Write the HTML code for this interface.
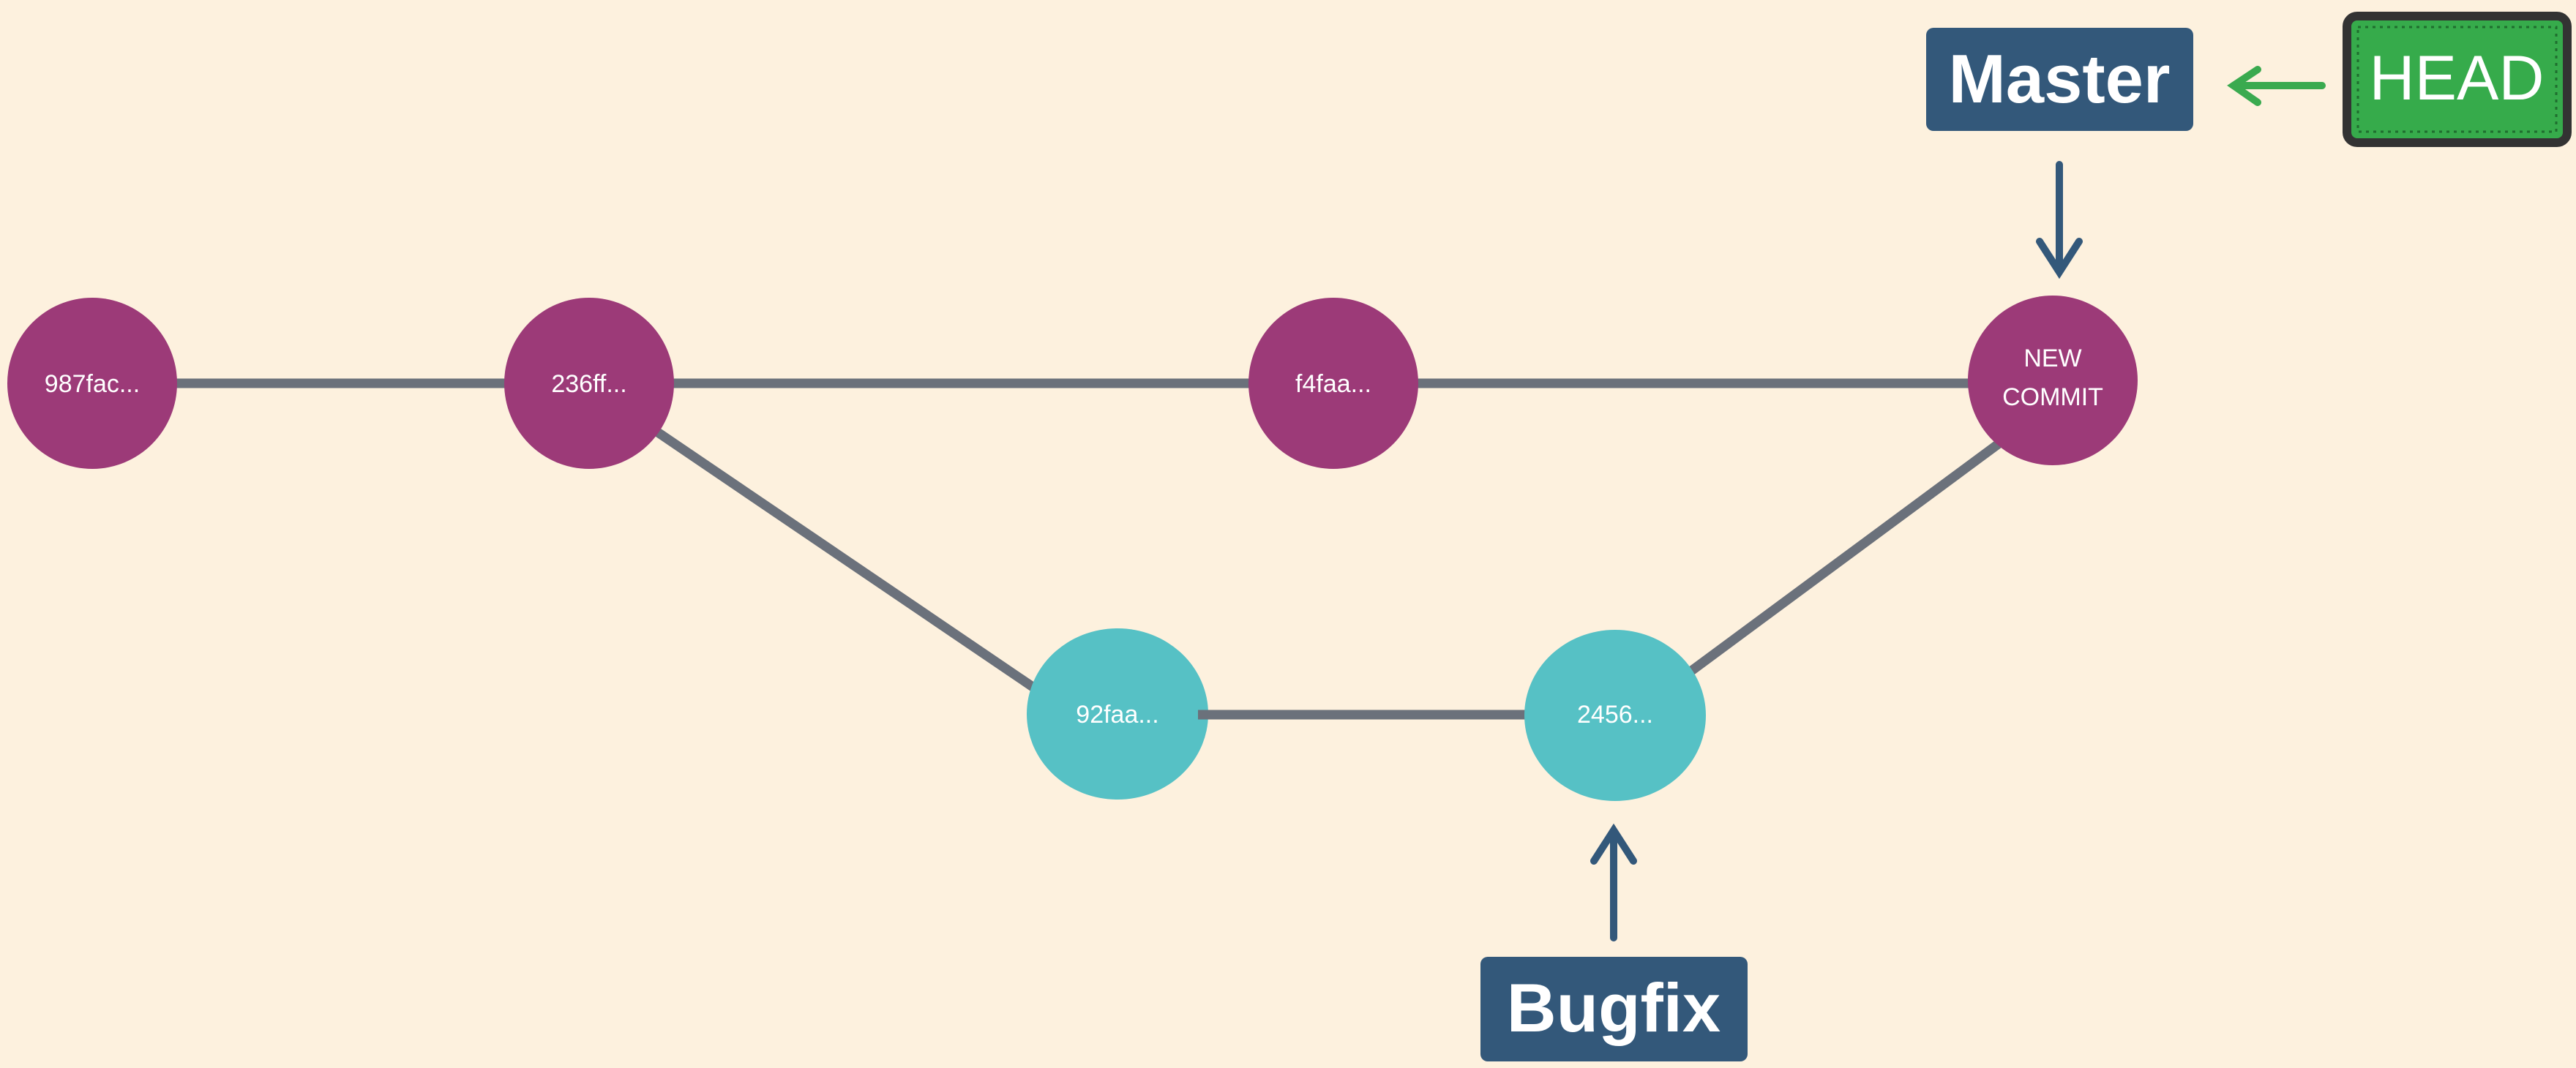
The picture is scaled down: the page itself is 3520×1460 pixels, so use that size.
<!DOCTYPE html>
<html><head><meta charset="utf-8"><style>
html,body{margin:0;padding:0;background:#fdf1de;}
svg{display:block;}
text{font-family:"Liberation Sans",sans-serif;}
</style></head><body>
<svg width="3520" height="1460" viewBox="0 0 3520 1460" xmlns="http://www.w3.org/2000/svg">
<rect width="3520" height="1460" fill="#fdf1de"/>
<g stroke="#6b717b" stroke-width="13" fill="none">
<line x1="126" y1="524" x2="2805" y2="524"/>
<line x1="890" y1="585" x2="1420" y2="945"/>
<line x1="1637" y1="977" x2="2207" y2="977"/>
<line x1="2310" y1="918" x2="2740" y2="600"/>
</g>
<g fill="#9c3a78">
<ellipse cx="126" cy="524" rx="116" ry="117"/>
<ellipse cx="805" cy="524" rx="116" ry="117"/>
<ellipse cx="1822" cy="524" rx="116" ry="117"/>
<ellipse cx="2805" cy="520" rx="116" ry="116"/>
</g>
<g fill="#56c1c5">
<ellipse cx="1527" cy="976" rx="124" ry="117"/>
<ellipse cx="2207" cy="978" rx="124" ry="117"/>
</g>
<line x1="1637" y1="977" x2="2083" y2="977" stroke="#6b717b" stroke-width="13"/>
<g fill="#fff" font-size="34" text-anchor="middle">
<text x="126" y="536">987fac...</text>
<text x="805" y="536">236ff...</text>
<text x="1822" y="536">f4faa...</text>
<text x="1527" y="988">92faa...</text>
<text x="2207" y="988">2456...</text>
<text x="2805" y="501" font-size="34">NEW</text>
<text x="2805" y="554" font-size="34">COMMIT</text>
</g>
<rect x="2632" y="38" width="365" height="141" rx="10" fill="#33587a"/>
<text x="2814" y="140" font-size="94" font-weight="bold" fill="#fff" text-anchor="middle">Master</text>
<rect x="3207" y="22" width="301" height="173" rx="14" fill="#36ab4b" stroke="#333" stroke-width="12"/>
<rect x="3222" y="37" width="271" height="143" fill="none" stroke="#1f6e2e" stroke-width="3" stroke-dasharray="4 6"/>
<text x="3357" y="136" font-size="86" fill="#fff" text-anchor="middle">HEAD</text>
<g stroke="#3aaa4f" stroke-width="10" stroke-linecap="round" fill="none">
<line x1="3052" y1="117" x2="3173" y2="117"/>
<polyline points="3085,95 3052,117 3085,140"/>
</g>
<g stroke="#33587a" stroke-width="10" stroke-linecap="round" fill="none">
<line x1="2814" y1="225" x2="2814" y2="370"/>
<polyline points="2787,330 2814,372 2841,330"/>
<line x1="2205" y1="1137" x2="2205" y2="1282"/>
<polyline points="2178,1177 2205,1135 2232,1177"/>
</g>
<rect x="2023" y="1308" width="365" height="143" rx="10" fill="#33587a"/>
<text x="2205" y="1410" font-size="94" font-weight="bold" fill="#fff" text-anchor="middle">Bugfix</text>
</svg>
</body></html>
